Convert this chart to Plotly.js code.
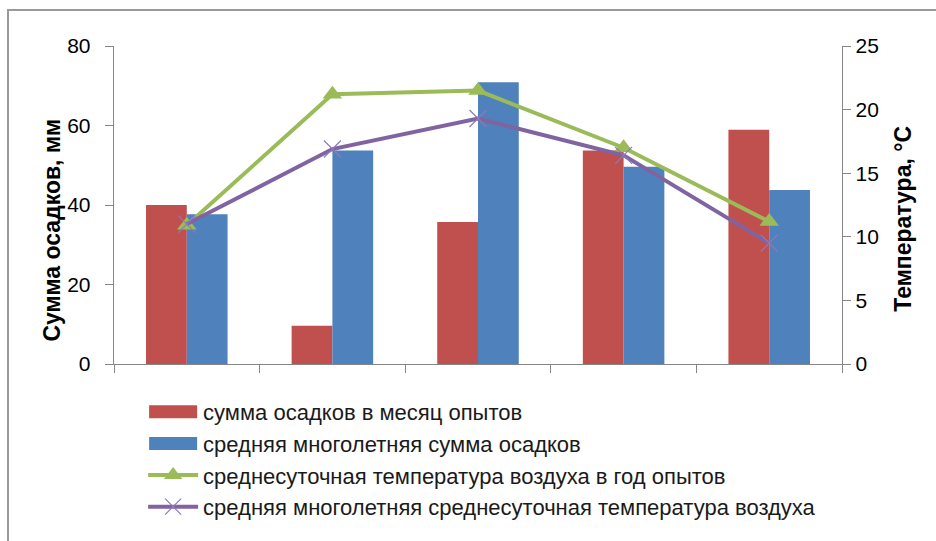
<!DOCTYPE html>
<html>
<head>
<meta charset="utf-8">
<script src="https://cdn.plot.ly/plotly-3.0.1.min.js"></script>
<style>html,body{margin:0;padding:0;background:#fff;}#chart{width:936px;height:541px;}</style>
</head>
<body>
<div id="chart"></div>
<script>
// Categories (months, no labels shown on the original chart)
const categories = ["1", "2", "3", "4", "5"];

// Precipitation, mm (left axis)
const precipYear = [40, 9.6, 35.7, 53.7, 58.9];
const precipMean = [37.7, 53.7, 70.9, 49.6, 43.8];

// Temperature, °C (right axis)
const tempYear = [10.9, 21.2, 21.5, 17.0, 11.2];
const tempMean = [11.0, 16.9, 19.3, 16.4, 9.5];

const names = [
  "сумма осадков в месяц опытов",
  "средняя многолетняя сумма осадков",
  "среднесуточная температура воздуха в год опытов",
  "средняя многолетняя среднесуточная температура воздуха"
];

const leftTicks = [0, 20, 40, 60, 80];
const rightTicks = [0, 5, 10, 15, 20, 25];

const FONT = "'Liberation Sans', Arial, sans-serif";
const AX = "#868686";

const traces = [
  {type: "bar", x: categories, y: precipYear, name: names[0],
   marker: {color: "#C0504D", line: {width: 0}}, yaxis: "y"},
  {type: "bar", x: categories, y: precipMean, name: names[1],
   marker: {color: "#4F81BD", line: {width: 0}}, yaxis: "y"},
  {type: "scatter", mode: "lines+markers", x: categories, y: tempYear, name: names[2],
   line: {color: "#9BBB59", width: 4}, marker: {symbol: "triangle-up", size: 17, color: "#9BBB59"},
   yaxis: "y2"},
  {type: "scatter", mode: "lines+markers", x: categories, y: tempMean, name: names[3],
   line: {color: "#8064A2", width: 4}, marker: {symbol: "x-thin", size: 17, line: {color: "#8F7AB5", width: 1.2}},
   yaxis: "y2"}
];

const layout = {
  width: 936, height: 541,
  margin: {l: 114, r: 94, t: 46, b: 177},
  paper_bgcolor: "#fff", plot_bgcolor: "#fff",
  font: {family: FONT, size: 20, color: "#000"},
  barmode: "group", bargap: 0.44, bargroupgap: 0,
  showlegend: true,
  legend: {x: 0.04, y: -0.085, xanchor: "left", yanchor: "top", orientation: "v",
           font: {family: FONT, size: 22, color: "#1a1a1a"}, tracegroupgap: 0,
           traceorder: "normal", itemwidth: 50},
  xaxis: {type: "category", categoryorder: "array", categoryarray: categories,
          range: [-0.5, 4.5], tickson: "boundaries", ticks: "outside", ticklen: 8,
          tickcolor: AX, showticklabels: false, showline: true, linecolor: AX, linewidth: 1.3,
          showgrid: false, zeroline: false, fixedrange: true},
  yaxis: {range: [0, 80], tickvals: leftTicks, ticks: "outside", ticklen: 8, tickcolor: AX,
          showline: true, linecolor: AX, linewidth: 1.3, showgrid: false, zeroline: false,
          ticklabelstandoff: 10,
          tickfont: {family: FONT, size: 21, color: "#000"},
          title: {text: "Сумма осадков, мм\u2003\u2003\u2009\u200B", standoff: 0,
                  font: {family: FONT, size: 23, color: "#000", weight: "bold"}}},
  yaxis2: {range: [0, 25], tickvals: rightTicks, overlaying: "y", side: "right",
           ticks: "outside", ticklen: 8, tickcolor: AX,
           showline: true, linecolor: AX, linewidth: 1.3, showgrid: false, zeroline: false,
           tickfont: {family: FONT, size: 21, color: "#000"},
           title: {text: "Температура, °С\u2003\u2009\u200B", standoff: 17,
                   font: {family: FONT, size: 23, color: "#000", weight: "bold"}}},
  xaxis3: {overlaying: "x", anchor: "y", type: "linear", range: [-0.5, 4.5],
           tickvals: [-0.5, 0.5, 1.5, 2.5, 3.5, 4.5], ticks: "inside", ticklen: 8, tickcolor: AX,
           showticklabels: false, showline: false, showgrid: false, zeroline: false},
  yaxis3: {overlaying: "y", anchor: "x", side: "left", range: [0, 80], tickvals: leftTicks,
           ticks: "inside", ticklen: 8, tickcolor: AX, showticklabels: false,
           showline: false, showgrid: false, zeroline: false},
  yaxis4: {overlaying: "y", anchor: "x", side: "right", range: [0, 25], tickvals: rightTicks,
           ticks: "inside", ticklen: 8, tickcolor: AX, showticklabels: false,
           showline: false, showgrid: false, zeroline: false},
  shapes: [{type: "rect", xref: "paper", yref: "paper",
            x0: -0.1456, x1: 1.14, y0: -0.6, y1: 1.113,
            line: {color: "#9a9a9a", width: 2}, fillcolor: "rgba(0,0,0,0)", layer: "below"}]
};

function widenBarSwatches() {
  // Widen the bar legend swatches to the wide rectangles of the original
  document.querySelectorAll("#chart .legend .legendpoints path").forEach(function (p) {
    const d = p.getAttribute("d") || "";
    if (d.indexOf("H-6V-6") >= 0 || p.classList.contains("legendbar")) {
      p.setAttribute("d", "M24,6.5H-24V-6.5H24Z");
    }
  });
}

Plotly.newPlot("chart", traces, layout, {displayModeBar: false, staticPlot: true}).then(function () {
  widenBarSwatches();
  setTimeout(widenBarSwatches, 50);
});
</script>
</body>
</html>
